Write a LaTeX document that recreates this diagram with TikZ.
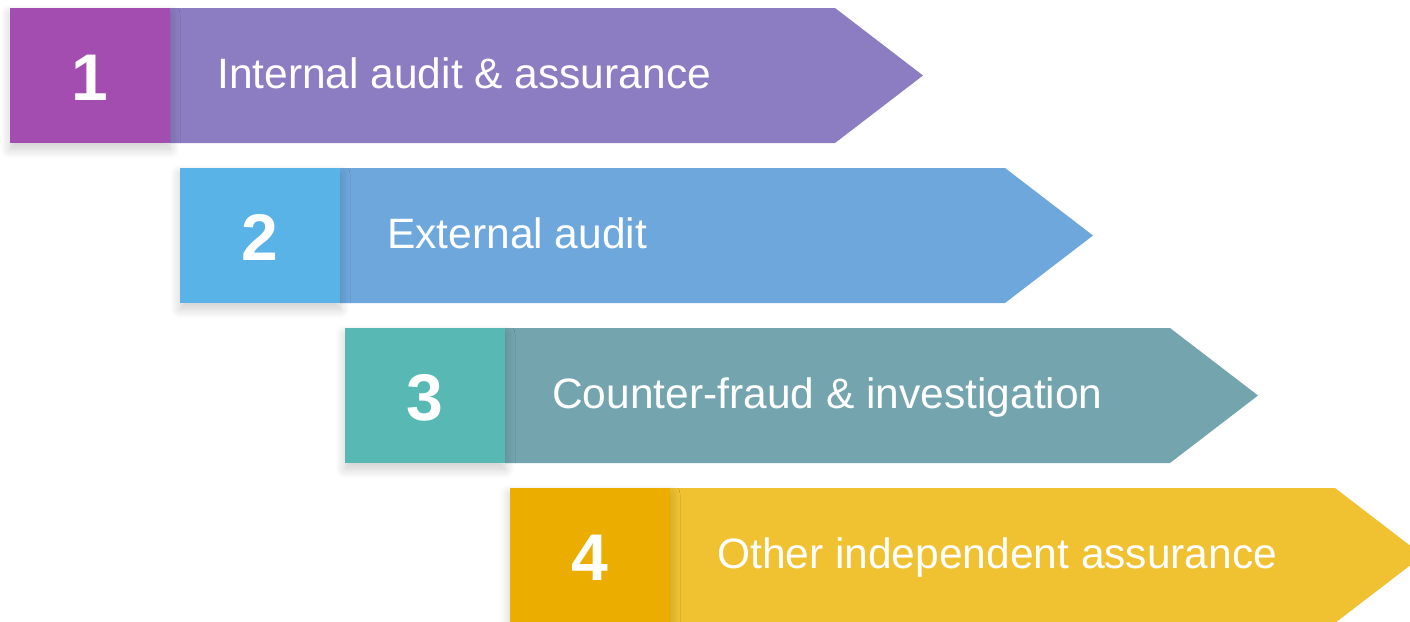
\documentclass[tikz,border=0pt]{standalone}
\usepackage{fontspec}
\setmainfont{Liberation Sans}
\usetikzlibrary{shadows.blur}
\definecolor{sqA}{HTML}{A24DAF}
\definecolor{bdA}{HTML}{8C7CC1}
\definecolor{sqB}{HTML}{5AB3E7}
\definecolor{bdB}{HTML}{6DA7DC}
\definecolor{sqC}{HTML}{58B9B4}
\definecolor{bdC}{HTML}{74A5AF}
\definecolor{sqD}{HTML}{EBAE00}
\definecolor{bdD}{HTML}{F0C232}
\tikzset{
  numbox/.style={blur shadow={shadow xshift=0pt, shadow yshift=-6pt, shadow blur radius=10pt, shadow opacity=20, shadow blur steps=12}},
  numtext/.style={text=white, font=\fontsize{66}{66}\selectfont\bfseries, anchor=base},
  labtext/.style={text=white, font=\fontsize{42.5}{42.5}\selectfont, anchor=base west, inner sep=0pt},
}
\begin{document}
\begin{tikzpicture}[x=1pt, y=-1pt]
\useasboundingbox (0,0) rectangle (1410,621);
\clip (0,0) rectangle (1410,621);
% one arrow step: #1 left x, #2 top y, #3 square colour, #4 body colour, #5 number, #6 label, #7 name
\newcommand\stepbar[7]{%
  \fill[#4] (#1+160,#2) -- (#1+825,#2) -- (#1+913,#2+67.5) -- (#1+825,#2+135) -- (#1+160,#2+135) -- cycle;
  \path[numbox, fill=#3] (#1,#2) rectangle (#1+160,#2+135);
  \coordinate (#7sq) at (#1+80,#2+67.5);
  \node[numtext] (#7num) at (#1+80,#2+92.5) {#5};
  \node[labtext] (#7lab) at (#1+207,#2+80.5) {#6};
}
\stepbar{10}{8}{sqA}{bdA}{1}{Internal audit \& assurance}{a}
\stepbar{180}{168}{sqB}{bdB}{2}{External audit}{b}
\stepbar{345}{328}{sqC}{bdC}{3}{Counter-fraud \& investigation}{c}
\stepbar{510}{488}{sqD}{bdD}{4}{Other independent assurance}{d}
\end{tikzpicture}
\end{document}
